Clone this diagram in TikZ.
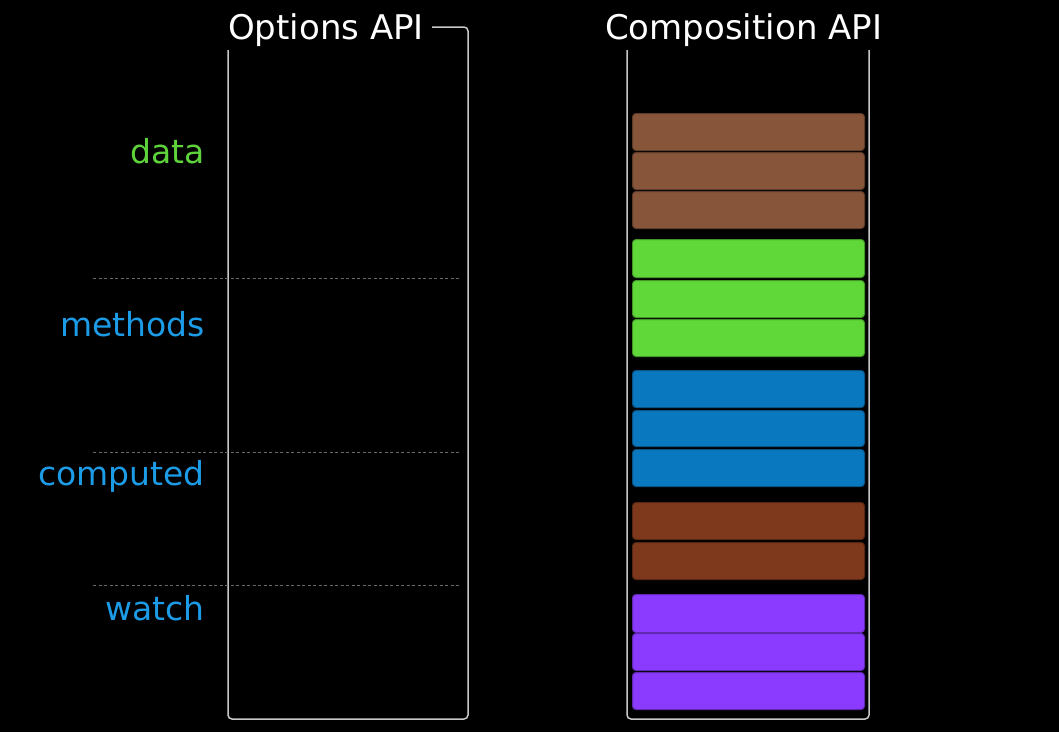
\documentclass[tikz,border=0pt]{standalone}
\usepackage{fontspec}
\setmainfont{DejaVu Sans}
\definecolor{bgc}{HTML}{000000}
\definecolor{framec}{HTML}{C8C8C8}
\definecolor{dashc}{HTML}{6A6A6A}
\definecolor{lblgreen}{HTML}{5FD33C}
\definecolor{lblblue}{HTML}{1C9BE6}
\definecolor{cbrown}{HTML}{87553A}
\definecolor{cgreen}{HTML}{60D83A}
\definecolor{cblue}{HTML}{0A78BE}
\definecolor{cdbrown}{HTML}{7E391C}
\definecolor{cpurple}{HTML}{8A3BFF}
\begin{document}
\begin{tikzpicture}[x=1pt,y=-1pt,
  title/.style={text=white,font=\fontsize{34}{40}\selectfont,inner sep=0pt},
  lbl/.style={font=\fontsize{33}{39}\selectfont,inner sep=0pt,anchor=base east},
  frame/.style={draw=framec,line width=1.5pt,rounded corners=4pt},
  sep/.style={draw=dashc,line width=0.8pt,dash pattern=on 3pt off 2.5pt},
  bar/.style={rounded corners=3.5pt,line width=1pt,minimum width=232pt,inner sep=0pt,anchor=north west}]
\fill[bgc] (0,0) rectangle (1059,732);
\useasboundingbox (0,0) rectangle (1059,732);
% titles
\node[title,anchor=base west] (t1) at (228,39) {Options API};
\node[title,anchor=base west] (t2) at (605,39) {Composition API};
% frames
\coordinate (l1) at (228,50);
\coordinate (l4) at (432,27);
\draw[frame] (l1) -- (228,719) -- (468,719) -- (468,27) -- (l4);
\coordinate (r1) at (627,50);
\coordinate (r4) at (869,50);
\draw[frame] (r1) -- (627,719) -- (869,719) -- (r4);
% separators
\coordinate (d1a) at (93,278); \coordinate (d1b) at (460,278);
\coordinate (d2a) at (93,452); \coordinate (d2b) at (460,452);
\coordinate (d3a) at (93,585); \coordinate (d3b) at (460,585);
\draw[sep] (d1a) -- (d1b);
\draw[sep] (d2a) -- (d2b);
\draw[sep] (d3a) -- (d3b);
% labels
\node[lbl,text=lblgreen] (ldata) at (205,163) {data};
\node[lbl,text=lblblue] (lmeth) at (205,336) {methods};
\node[lbl,text=lblblue] (lcomp) at (205,485) {computed};
\node[lbl,text=lblblue] (lwatch) at (205,620) {watch};
% bars
\foreach \n/\t/\h/\c in {b1/113/37/cbrown, b2/152/37/cbrown, b3/191/37/cbrown,
  b4/239/38/cgreen, b5/280/37/cgreen, b6/319/37/cgreen,
  b7/370/37/cblue, b8/410/36/cblue, b9/449/37/cblue,
  b10/502/37/cdbrown, b11/542/37/cdbrown,
  b12/594/38/cpurple, b13/633/37/cpurple, b14/672/37/cpurple}
  \node[bar,fill=\c,draw=\c!70!black,minimum height=\h pt] (\n) at (632,\t) {};
\end{tikzpicture}
\end{document}
